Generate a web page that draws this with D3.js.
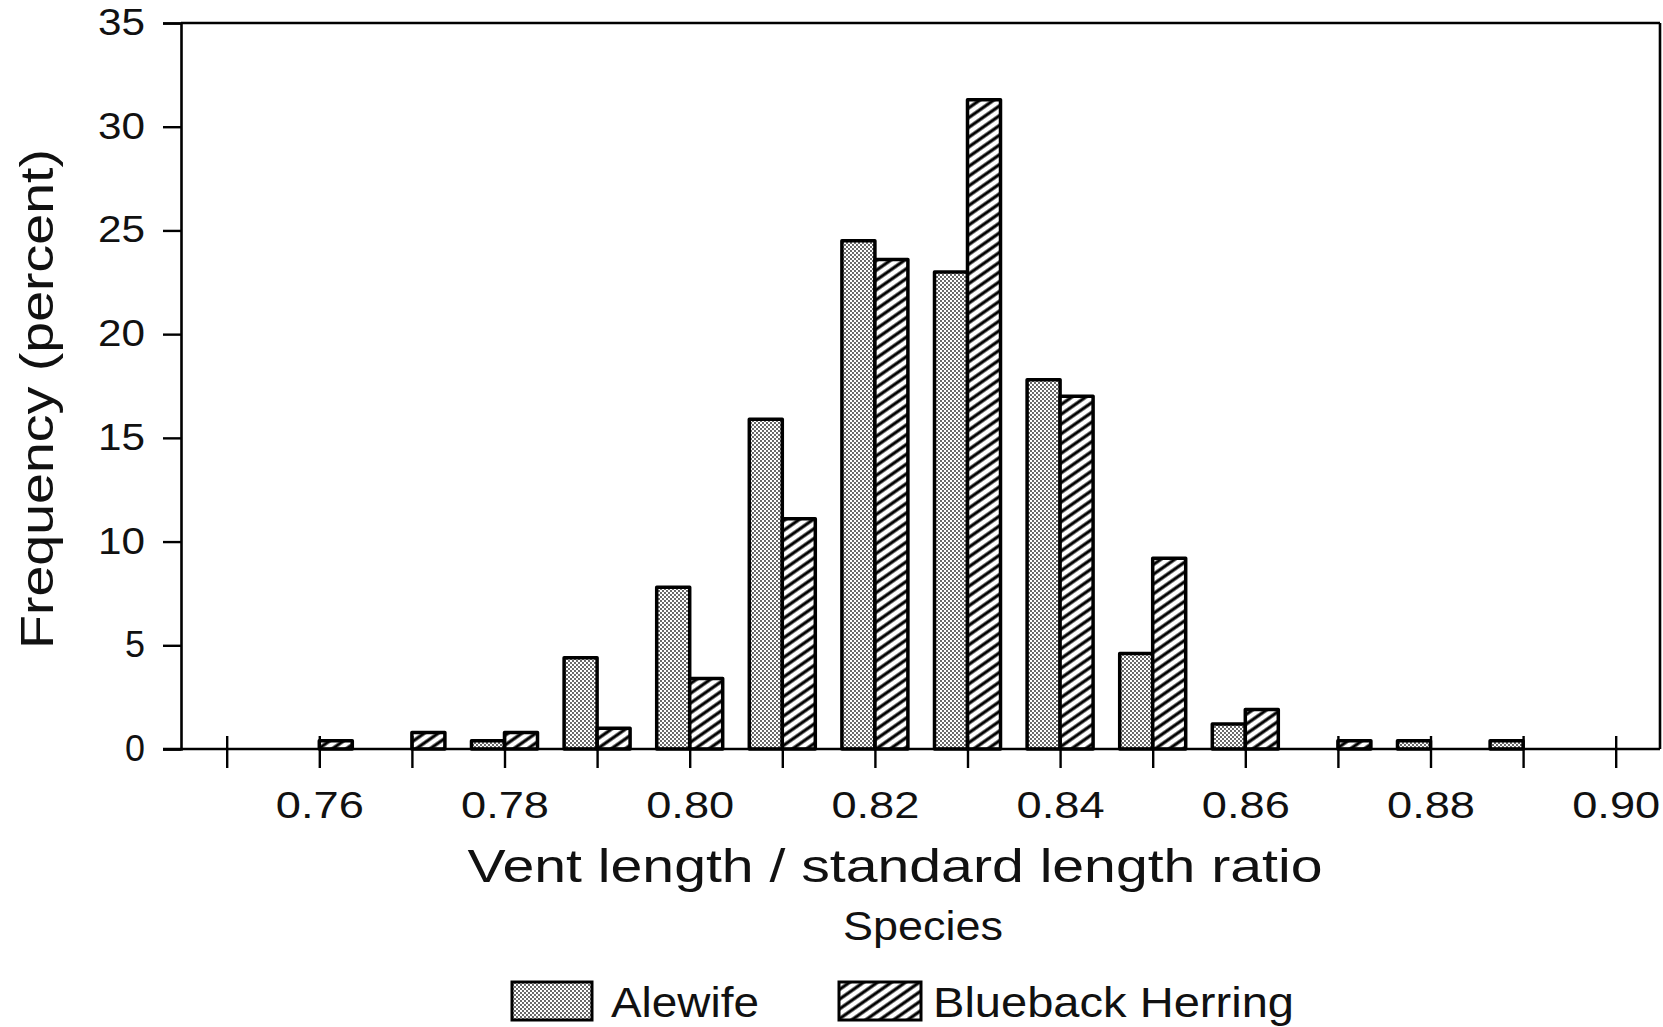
<!DOCTYPE html>
<html><head><meta charset="utf-8">
<script src="https://cdn.jsdelivr.net/npm/d3@7/dist/d3.min.js"></script>
<style>
html,body{margin:0;padding:0;background:#fff;}
svg{display:block;}
text{font-family:"Liberation Sans",Arial,sans-serif;fill:#111;}
</style></head>
<body>
<svg id="chart" width="1663" height="1027"></svg>
<script>
// ---- data ----
const bins = [0.75,0.76,0.77,0.78,0.79,0.80,0.81,0.82,0.83,0.84,0.85,0.86,0.87,0.88,0.89,0.90];
const alewife  = [0,0,0,0.4,4.4,7.8,15.9,24.5,23.0,17.8,4.6,1.2,0,0.4,0.4,0];
const blueback = [0,0.4,0.8,0.8,1.0,3.4,11.1,23.6,31.3,17.0,9.2,1.9,0.4,0,0,0];
const yTicks = [0,5,10,15,20,25,30,35];
const xLabelTicks = [0.76,0.78,0.80,0.82,0.84,0.86,0.88,0.90];
const seriesNames = ["Alewife","Blueback Herring"];

const svg = d3.select("#chart");
const x = d3.scaleLinear().domain([0.75,0.90]).range([226.7,1615.7]);
const y = d3.scaleLinear().domain([0,35]).range([749,23]);
const axisX = 181, frameRight = 1660, barW = 33;

// patterns
const defs = svg.append("defs");
const stip = defs.append("pattern").attr("id","stipple").attr("patternUnits","userSpaceOnUse")
  .attr("width",4).attr("height",4);
stip.append("rect").attr("width",4).attr("height",4).attr("fill","#fff");
stip.append("circle").attr("cx",1).attr("cy",1).attr("r",0.9).attr("fill","#222");
stip.append("circle").attr("cx",3).attr("cy",3).attr("r",0.9).attr("fill","#222");
const hatch = defs.append("pattern").attr("id","hatch").attr("patternUnits","userSpaceOnUse")
  .attr("width",12).attr("height",8).attr("patternTransform","rotate(-35)");
hatch.append("rect").attr("width",12).attr("height",8).attr("fill","#fff");
hatch.append("line").attr("x1",0).attr("x2",12).attr("y1",4).attr("y2",4)
  .attr("stroke","#000").attr("stroke-width",3.2);

// bars
const g = svg.append("g");
const data = [];
bins.forEach((b,i)=>{
  if (alewife[i]>0) data.push({b, v:alewife[i], s:0});
  if (blueback[i]>0) data.push({b, v:blueback[i], s:1});
});
g.selectAll("rect.bar").data(data).join("rect").attr("class","bar")
  .attr("x",d=> d.s===0 ? x(d.b)-barW : x(d.b))
  .attr("y",d=>y(d.v))
  .attr("width",barW)
  .attr("height",d=>y(0)-y(d.v))
  .attr("fill",d=> d.s===0 ? "url(#stipple)" : "url(#hatch)")
  .attr("stroke","#000").attr("stroke-width",3.5).attr("stroke-linejoin","round");

// frame: top and right
svg.append("line").attr("x1",axisX).attr("x2",frameRight).attr("y1",y(35)).attr("y2",y(35))
  .attr("stroke","#000").attr("stroke-width",2.6);
svg.append("line").attr("x1",frameRight).attr("x2",frameRight).attr("y1",y(35)).attr("y2",y(0))
  .attr("stroke","#000").attr("stroke-width",2.6);

// y axis
const yAxis = svg.append("g").attr("transform",`translate(${axisX},0)`)
  .call(d3.axisLeft(y).tickValues(yTicks).tickSize(18).tickPadding(18).tickFormat(d3.format("d")));
yAxis.select(".domain").attr("stroke","#000").attr("stroke-width",2.6);
yAxis.selectAll(".tick line").attr("stroke","#000").attr("stroke-width",2.4);
yAxis.selectAll(".tick text").attr("font-size",36).attr("fill","#111")
  .attr("font-family","Liberation Sans, Arial, sans-serif")
  .attr("textLength",d=> String(d).length*20 + (String(d).length-1)*7)
  .attr("lengthAdjust","spacingAndGlyphs");

// x axis
const xAxis = svg.append("g").attr("transform",`translate(0,${y(0)})`)
  .call(d3.axisBottom(x).tickValues(bins).tickSize(19).tickPadding(24)
    .tickFormat(d=> xLabelTicks.some(t=>Math.abs(t-d)<1e-9) ? d3.format(".2f")(d) : ""));
xAxis.select(".domain").remove();
xAxis.append("line").attr("x1",163).attr("x2",frameRight).attr("y1",0).attr("y2",0)
  .attr("stroke","#000").attr("stroke-width",2.6);
xAxis.selectAll(".tick line").attr("y1",-13).attr("stroke","#000").attr("stroke-width",2.4);
xAxis.selectAll(".tick text").attr("font-size",36).attr("fill","#111")
  .attr("font-family","Liberation Sans, Arial, sans-serif")
  .each(function(d){ if (d3.select(this).text()!=="") d3.select(this).attr("textLength",88).attr("lengthAdjust","spacingAndGlyphs"); });

// titles
svg.append("text").attr("x",895).attr("y",882).attr("text-anchor","middle")
  .attr("font-size",46).attr("textLength",855).attr("lengthAdjust","spacingAndGlyphs")
  .text("Vent length / standard length ratio");
svg.append("text").attr("transform","translate(53,399) rotate(-90)").attr("text-anchor","middle")
  .attr("font-size",46).attr("textLength",500).attr("lengthAdjust","spacingAndGlyphs")
  .text("Frequency (percent)");
svg.append("text").attr("x",923).attr("y",940).attr("text-anchor","middle")
  .attr("font-size",40).attr("textLength",160).attr("lengthAdjust","spacingAndGlyphs")
  .text("Species");

// legend
const legend = [
  {name:seriesNames[0], fill:"url(#stipple)", sx:512, sw:80, tx:611, tw:148},
  {name:seriesNames[1], fill:"url(#hatch)", sx:839, sw:82, tx:933, tw:361}
];
const lg = svg.append("g");
lg.selectAll("rect").data(legend).join("rect")
  .attr("x",d=>d.sx).attr("y",982).attr("width",d=>d.sw).attr("height",38)
  .attr("fill",d=>d.fill).attr("stroke","#000").attr("stroke-width",3);
lg.selectAll("text").data(legend).join("text")
  .attr("x",d=>d.tx).attr("y",1017).attr("font-size",42)
  .attr("textLength",d=>d.tw).attr("lengthAdjust","spacingAndGlyphs")
  .text(d=>d.name);
</script>
</body></html>
